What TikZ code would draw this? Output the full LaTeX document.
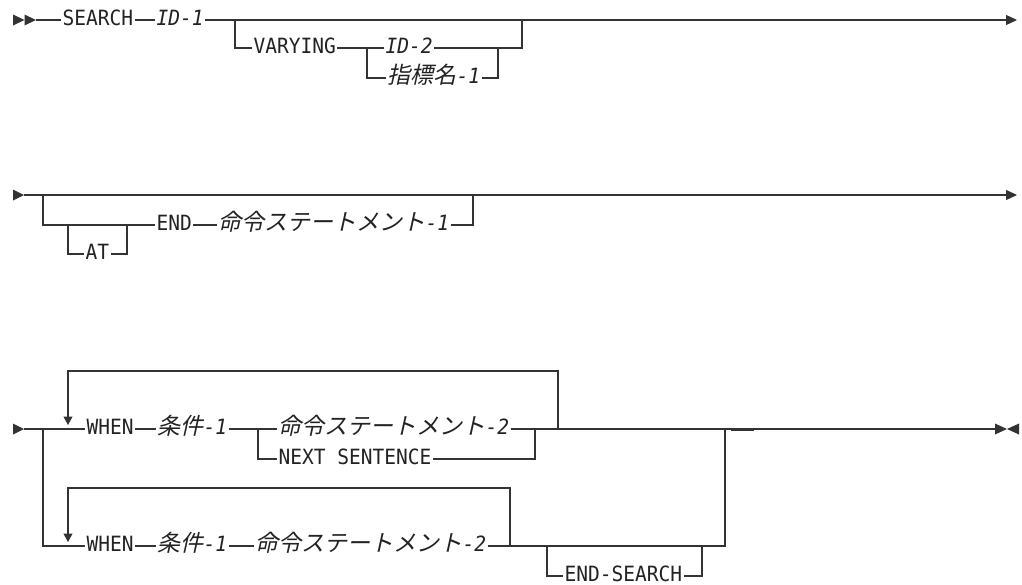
\documentclass[tikz,border=0pt]{standalone}
\usepackage{fontspec}
\newfontfamily\rrfont{DejaVu Sans Mono}[FakeStretch=0.93]
\newfontfamily\jpfont{Noto Sans CJK JP}[FakeSlant=0.22]
\usepackage{tikz}
\usetikzlibrary{arrows.meta,positioning}
\definecolor{Rail}{HTML}{333333}
\definecolor{Ink}{HTML}{222222}
\newcommand\jpvar[2]{{\jpfont\fontsize{23}{26}\selectfont #1}{\itshape #2}}
\newcommand\railtri[2]{\fill[railtip] (#1) ++(0,-5.5) -- ++(#2,5.5) -- ++({-1*(#2)},5.5) -- cycle;}
\tikzset{
  synkey/.style={
    anchor=west,
    inner xsep=1pt,
    inner ysep=0pt,
    text height=13pt,
    text depth=1.4pt,
    font=\rrfont\fontsize{21}{24}\selectfont,
    text=Ink
  },
  synvar/.style={
    synkey,
    font=\rrfont\fontsize{21}{24}\selectfont\itshape
  },
  railline/.style={
    line width=1.1pt,
    draw=Rail
  },
  railarrow/.style={
    railline,
    -{Triangle[length=11pt,width=10pt]}
  },
  loopback/.style={
    railline,
    -{Triangle[length=8.5pt,width=9pt]}
  },
  railtip/.style={fill=Rail}
}
\begin{document}
\begin{tikzpicture}[x=1pt,y=-1pt,railline]
\useasboundingbox (0,0) rectangle (1022,584);
\coordinate (r1s) at (13,20);
\coordinate (r1m) at (24.5,20);
\coordinate (r1a) at (36,20);
\node[synkey] (search) at (61,20) {SEARCH};
\node[synvar] (id1) at (155,20) {ID-1};
\coordinate (r1e) at (1017,20);
\coordinate (vsplit) at (235,20);
\coordinate (vjoin) at (522,20);
\node[synkey] (varying) at (252,48) {VARYING};
\node[synvar] (id2) at (384,48) {ID-2};
\node[synvar] (idx1) at (386,78) {\jpvar{指標名}{-1}};
\coordinate (isplit) at (367,48);
\coordinate (ijoin) at (498,48);
\railtri{r1s}{11.5}
\railtri{r1m}{11.5}
\draw (r1a) -- (search.west);
\draw (search.east) -- (id1.west);
\draw[railarrow] (id1.east) -- (r1e);
\draw (vsplit) |- (varying.west);
\draw (varying.east) -- (id2.west);
\draw (isplit) |- (idx1.west);
\draw (idx1.east) -| (ijoin);
\draw (id2.east) -| (vjoin);
\coordinate (r2s) at (13,195);
\coordinate (r2a) at (24,195);
\coordinate (r2e) at (1017,195);
\coordinate (esplit) at (43,195);
\coordinate (asplit) at (68,225);
\node[synkey] (at) at (84,254) {AT};
\coordinate (ajoin) at (127,225);
\node[synkey] (end) at (155,225) {END};
\node[synvar] (stmt1) at (217,225) {\jpvar{命令ステートメント}{-1}};
\coordinate (ejoin) at (473,195);
\railtri{r2s}{11}
\draw[railarrow] (r2a) -- (r2e);
\draw (esplit) |- (end.west);
\draw (asplit) |- (at.west);
\draw (at.east) -| (ajoin);
\draw (end.east) -- (stmt1.west);
\draw (stmt1.east) -| (ejoin);
\coordinate (r3s) at (13,429);
\coordinate (r3a) at (24,429);
\coordinate (wsplit) at (43,429);
\node[synkey] (when1) at (85,429) {WHEN};
\node[synvar] (cond1) at (156,429) {\jpvar{条件}{-1}};
\coordinate (c1split) at (258,429);
\node[synvar] (stmt2) at (277,429) {\jpvar{命令ステートメント}{-2}};
\node[synkey] (next) at (277,459) {NEXT SENTENCE};
\coordinate (c1join) at (535,429);
\coordinate (loop1) at (558,429);
\coordinate (loop1top) at (68,371);
\coordinate (loop1tip) at (68,425);
\node[synkey] (when2) at (85,546) {WHEN};
\node[synvar] (cond2) at (156,546) {\jpvar{条件}{-1}};
\node[synvar] (stmt3) at (254,546) {\jpvar{命令ステートメント}{-2}};
\coordinate (loop2) at (510,546);
\coordinate (loop2top) at (68,488);
\coordinate (loop2tip) at (68,542);
\coordinate (ssplit) at (547,546);
\node[synkey] (endsearch) at (563,576) {END-SEARCH};
\coordinate (sjoin) at (702,546);
\coordinate (wjoin) at (725,429);
\coordinate (dash1) at (731,430.5);
\coordinate (dash2) at (754,430.5);
\coordinate (r3e) at (995,429);
\coordinate (r3f) at (1019,429);
\railtri{r3s}{11}
\draw (r3a) -- (when1.west);
\draw (when1.east) -- (cond1.west);
\draw (cond1.east) -- (stmt2.west);
\draw (c1split) |- (next.west);
\draw (next.east) -| (c1join);
\draw (stmt2.east) -- (r3e);
\draw[loopback] (loop1) |- (loop1top) -- (loop1tip);
\draw (wsplit) |- (when2.west);
\draw (when2.east) -- (cond2.west);
\draw (cond2.east) -- (stmt3.west);
\draw (stmt3.east) -| (wjoin);
\draw[loopback] (loop2) |- (loop2top) -- (loop2tip);
\draw (ssplit) |- (endsearch.west);
\draw (endsearch.east) -| (sjoin);
\draw[line width=1.8pt] (dash1) -- (dash2);
\railtri{r3e}{12}
\railtri{r3f}{-12}
\end{tikzpicture}
\end{document}
